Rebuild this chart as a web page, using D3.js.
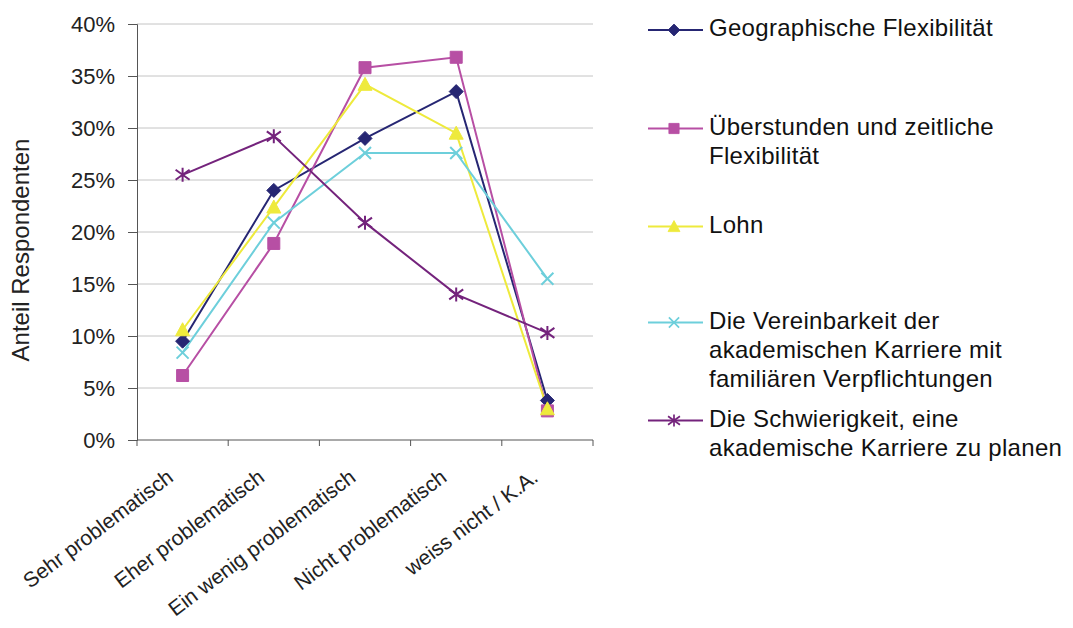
<!DOCTYPE html>
<html>
<head>
<meta charset="utf-8">
<script src="https://cdn.jsdelivr.net/npm/d3@7"></script>
<style>
  body { margin: 0; background: #fff; }
  svg { display: block; font-family: "Liberation Sans", Arial, sans-serif; }
</style>
</head>
<body>
<svg id="chart" width="1073" height="628"></svg>
<script>
const categories = ['Sehr problematisch', 'Eher problematisch', 'Ein wenig problematisch', 'Nicht problematisch', 'weiss nicht / K.A.'];
const yTicks = [0, 0.05, 0.10, 0.15, 0.20, 0.25, 0.30, 0.35, 0.40];

const geoValues = [0.095, 0.240, 0.290, 0.335, 0.038];
const ueberstundenValues = [0.062, 0.189, 0.358, 0.368, 0.028];
const lohnValues = [0.106, 0.224, 0.342, 0.295, 0.030];
const vereinbarkeitValues = [0.084, 0.209, 0.276, 0.276, 0.155];
const schwierigkeitValues = [0.255, 0.292, 0.209, 0.140, 0.103];

const seriesNames = [
  ['Geographische Flexibilität'],
  ['Überstunden und zeitliche', 'Flexibilität'],
  ['Lohn'],
  ['Die Vereinbarkeit der', 'akademischen Karriere mit', 'familiären Verpflichtungen'],
  ['Die Schwierigkeit, eine', 'akademische Karriere zu planen'],
];

const series = [
  { name: seriesNames[0], values: geoValues, color: '#262673', marker: 'diamond' },
  { name: seriesNames[1], values: ueberstundenValues, color: '#b74fa4', marker: 'square' },
  { name: seriesNames[2], values: lohnValues, color: '#eeea3c', marker: 'triangle' },
  { name: seriesNames[3], values: vereinbarkeitValues, color: '#6dcfdb', marker: 'cross' },
  { name: seriesNames[4], values: schwierigkeitValues, color: '#74237c', marker: 'asterisk' },
];

const margin = { top: 24, left: 137, right: 480, bottom: 188 };
const svg = d3.select('#chart');
const width = 1073 - margin.left - margin.right;
const height = 628 - margin.top - margin.bottom;
const g = svg.append('g').attr('transform', `translate(${margin.left},${margin.top})`);

const xBand = d3.scaleBand().domain(categories).range([0, width]);
const x = d3.scalePoint().domain(categories).range([0, width]).padding(0.5);
const y = d3.scaleLinear().domain([0, 0.4]).range([height, 0]);

// gridlines
g.append('g')
  .selectAll('line')
  .data(yTicks.slice(1))
  .join('line')
    .attr('x1', 0)
    .attr('x2', width)
    .attr('y1', d => y(d))
    .attr('y2', d => y(d))
    .attr('stroke', '#c4c4c4')
    .attr('stroke-width', 1);

// y axis
const yAxis = g.append('g')
  .call(d3.axisLeft(y).tickValues(yTicks).tickFormat(d3.format('.0%')).tickSize(9).tickPadding(13));
yAxis.select('.domain').attr('stroke', '#555');
yAxis.selectAll('.tick line').attr('stroke', '#555');
yAxis.selectAll('text')
  .attr('font-size', 22)
  .attr('fill', '#222')
  .attr('font-family', '"Liberation Sans", Arial, sans-serif');

// x axis with ticks at band edges
g.append('line')
  .attr('x1', 0).attr('x2', width)
  .attr('y1', height).attr('y2', height)
  .attr('stroke', '#555');
const edges = categories.map(c => xBand(c)).concat([width]);
g.append('g')
  .selectAll('line')
  .data(edges)
  .join('line')
    .attr('x1', d => d).attr('x2', d => d)
    .attr('y1', height).attr('y2', height + 6)
    .attr('stroke', '#555');

g.append('g')
  .selectAll('text')
  .data(categories)
  .join('text')
    .attr('transform', d => `translate(${x(d) - 8},${height + 40}) rotate(-37)`)
    .attr('text-anchor', 'end')
    .attr('font-size', 21)
    .attr('fill', '#222')
    .text(d => d);

// y title
svg.append('text')
  .attr('transform', `translate(29,250) rotate(-90)`)
  .attr('text-anchor', 'middle')
  .attr('font-size', 24)
  .attr('fill', '#222')
  .text('Anteil Respondenten');

function markerPath(type) {
  switch (type) {
    case 'diamond': return 'M0,-7L7,0L0,7L-7,0Z';
    case 'square': return 'M-6,-6H6V6H-6Z';
    case 'triangle': return 'M0,-7L7,6H-7Z';
    case 'cross': return 'M-6,-6L6,6M-6,6L6,-6';
    case 'asterisk': return 'M-7,-5L7,5M-7,5L7,-5M0,-7V7';
  }
}

function drawMarker(sel, s) {
  const filled = s.marker === 'diamond' || s.marker === 'square' || s.marker === 'triangle';
  sel.append('path')
    .attr('d', markerPath(s.marker))
    .attr('fill', filled ? s.color : 'none')
    .attr('stroke', s.color)
    .attr('stroke-width', filled ? 1 : 2);
}

const line = d3.line()
  .x((d, i) => x(categories[i]))
  .y(d => y(d));

series.forEach(s => {
  g.append('path')
    .datum(s.values)
    .attr('fill', 'none')
    .attr('stroke', s.color)
    .attr('stroke-width', 2)
    .attr('d', line);
});

series.forEach(s => {
  s.values.forEach((v, i) => {
    const m = g.append('g').attr('transform', `translate(${x(categories[i])},${y(v)})`);
    drawMarker(m, s);
  });
});

// legend
const legendLineY = [30, 128.5, 226.5, 322.5, 420.5];
const legend = svg.append('g');
series.forEach((s, i) => {
  const item = legend.append('g').attr('transform', `translate(648,${legendLineY[i]})`);
  item.append('line')
    .attr('x1', 0).attr('x2', 55)
    .attr('y1', 0).attr('y2', 0)
    .attr('stroke', s.color)
    .attr('stroke-width', 2);
  const m = item.append('g').attr('transform', 'translate(26,0) scale(0.85)');
  drawMarker(m, s);
  item.append('g')
    .selectAll('text')
    .data(s.name)
    .join('text')
      .attr('x', 61)
      .attr('y', (d, j) => j * 29.4 + 6)
      .attr('font-size', 24)
      .attr('letter-spacing', 0.3)
      .attr('fill', '#111')
      .text(d => d);
});
</script>
</body>
</html>
